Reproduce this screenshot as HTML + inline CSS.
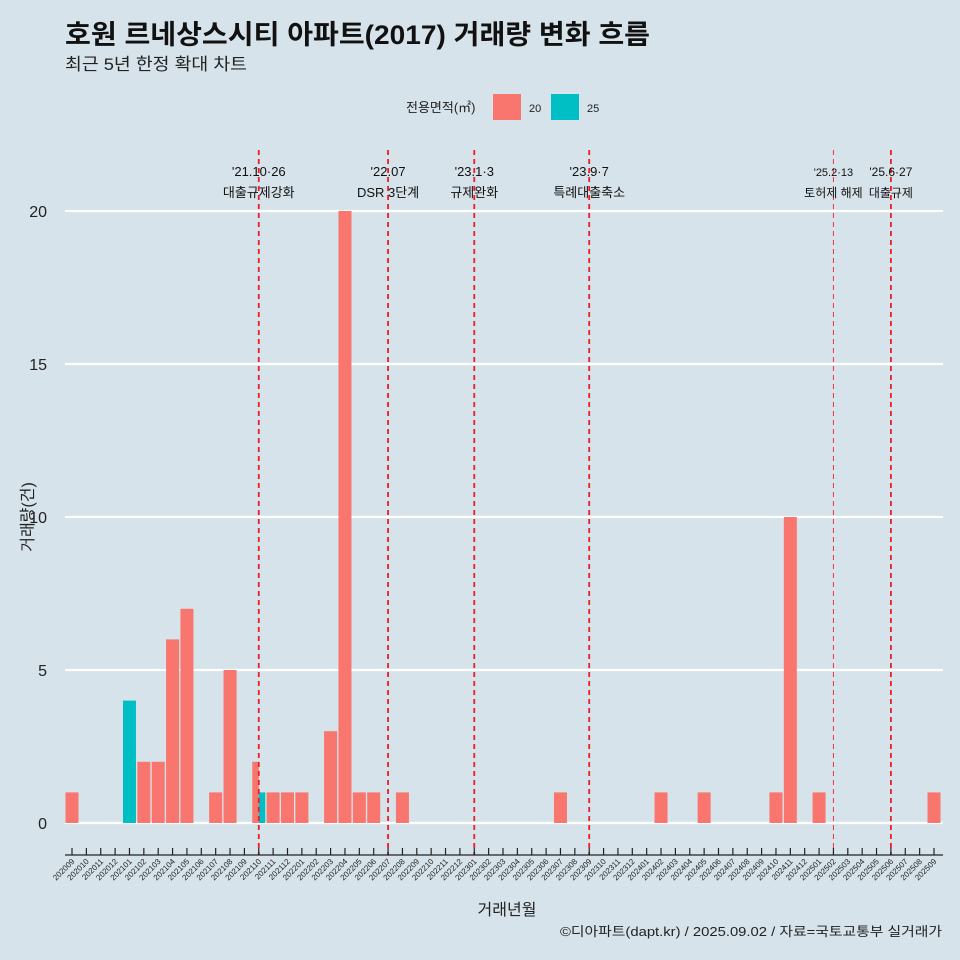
<!DOCTYPE html>
<html><head><meta charset="utf-8"><style>
body{margin:0;background:#d6e3ea;}
svg{display:block;font-family:"Liberation Sans","Noto Sans CJK KR",sans-serif;}
</style></head><body>
<svg id="c" width="960" height="960">
<rect width="960" height="960" fill="#d6e3ea"/>
<text x="65" y="44" font-size="27" font-weight="bold" fill="#111" textLength="585" lengthAdjust="spacingAndGlyphs">호원 르네상스시티 아파트(2017) 거래량 변화 흐름</text>
<text x="65" y="70" font-size="17" fill="#222" textLength="182" lengthAdjust="spacingAndGlyphs">최근 5년 한정 확대 차트</text>
<g>
<text x="406" y="112" font-size="13" fill="#222">전용면적(㎡)</text>
<rect x="493" y="94" width="28" height="26" fill="#f8766d"/>
<text x="529" y="112" font-size="11" fill="#222">20</text>
<rect x="551" y="94" width="28" height="26" fill="#00bfc4"/>
<text x="587" y="112" font-size="11" fill="#222">25</text>
</g>
<g id="grid"></g><g id="bars"></g><g id="events"></g><g id="xaxis"></g><g id="yaxis"></g>
<text x="507" y="915" font-size="16" text-anchor="middle" fill="#222">거래년월</text>
<text transform="translate(33,517) rotate(-90)" font-size="16" text-anchor="middle" fill="#222">거래량(건)</text>
<text x="942" y="936" font-size="13" text-anchor="end" fill="#222" textLength="382" lengthAdjust="spacingAndGlyphs">©디아파트(dapt.kr) / 2025.09.02 / 자료=국토교통부 실거래가</text>
</svg>
<script>
const months=[];for(let y=2020,m=9;y*100+m<=202509;){months.push(''+y+(m<10?'0':'')+m);m++;if(m>12){m=1;y++;}}
const series20={"202009":1,"202102":2,"202103":2,"202104":6,"202105":7,"202107":1,"202108":5,"202110":2,"202111":1,"202112":1,"202201":1,"202203":3,"202204":20,"202205":1,"202206":1,"202208":1,"202307":1,"202402":1,"202405":1,"202410":1,"202411":10,"202501":1,"202509":1};
const series25={"202101":4,"202110":1};
const yTicks=[0,5,10,15,20];
const eventMonths=["202110","202207","202301","202309","202502","202506"];
const eventLine1=["'21.10·26","'22.07","'23.1·3","'23.9·7","'25.2·13","'25.6·27"];
const eventLine2=["대출규제강화","DSR 3단계","규제완화","특례대출축소","토허제 해제","대출규제"];
const NS='http://www.w3.org/2000/svg';
const x0=72,step=(934-72)/60,bw=13;
const xs=m=>x0+months.indexOf(m)*step;
const ys=v=>823-v*30.6;
function el(p,t,a){const e=document.createElementNS(NS,t);for(const k in a)e.setAttribute(k,a[k]);document.getElementById(p).appendChild(e);return e;}
yTicks.forEach(v=>{
 const l=el('grid','line',{x1:65,x2:943,y1:ys(v),y2:ys(v),stroke:'#fff','stroke-width':2.2});
 
 
 const t=el('yaxis','text',{x:47,y:ys(v)+6,'font-size':16,'text-anchor':'end',fill:'#222'});t.textContent=v;
 
 
});
months.forEach(m=>{
 const a=series20[m]||0,b=series25[m]||0,cx=xs(m);
 const both=a&&b;
 if(a){const r=el('bars','rect',{x:cx-bw/2,y:ys(a),width:both?bw/2:bw,height:ys(0)-ys(a),fill:'#f8766d'});
  
  }
 if(b){const r=el('bars','rect',{x:both?cx:cx-bw/2,y:ys(b),width:both?bw/2:bw,height:ys(0)-ys(b),fill:'#00bfc4'});
  
  }
 const tk=el('xaxis','line',{x1:cx,x2:cx,y1:848,y2:855,stroke:'#222','stroke-width':1.2});
 
 
 const t=el('xaxis','text',{transform:`translate(${cx+3},${862}) rotate(-45)`,'font-size':8,'text-anchor':'end',fill:'#222'});t.textContent=m;
 
 
});
const ax=el('xaxis','line',{x1:65,x2:943,y1:855,y2:855,stroke:'#222','stroke-width':1.2});


eventMonths.forEach((m,i)=>{
 const cx=xs(m),thin=m==='202502';
 const l=el('events','line',{x1:cx,x2:cx,y1:150,y2:855,stroke:thin?'#e8383d':'#ee1c24','stroke-width':thin?1:1.8,'stroke-dasharray':'5,4'});
 
 
 const fs=m>='202502'?12:13, fs1=m==='202502'?11:fs;
 const t1=el('events','text',{x:cx,y:176,'font-size':fs1,'text-anchor':'middle',fill:'#111'});t1.textContent=eventLine1[i];
 
 
 const t2=el('events','text',{x:cx,y:197,'font-size':fs,'text-anchor':'middle',fill:'#111'});t2.textContent=eventLine2[i];
 
 
});
</script>
</body></html>
